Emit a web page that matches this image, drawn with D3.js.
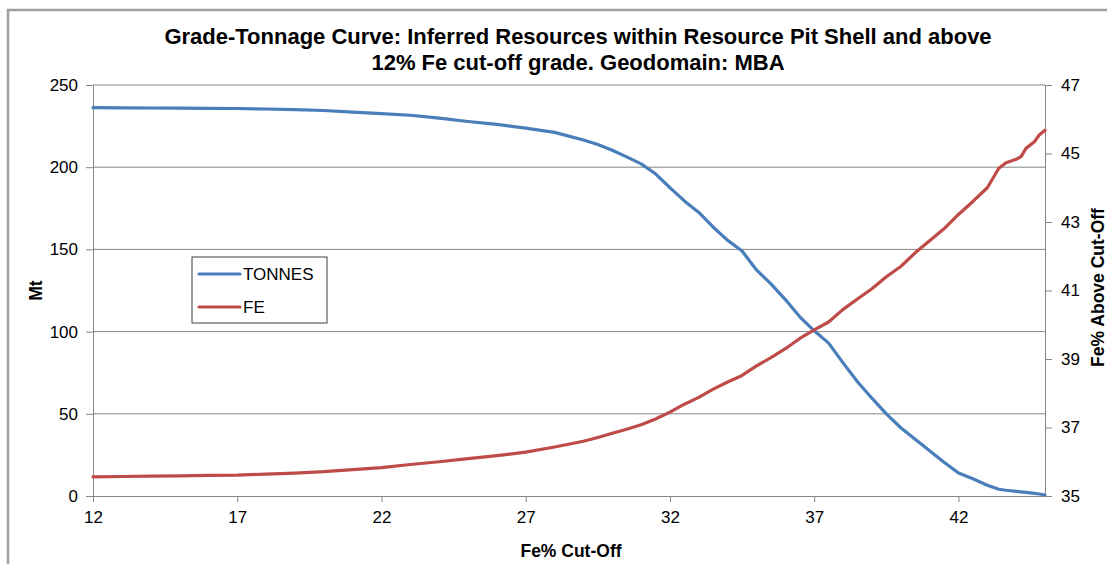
<!DOCTYPE html>
<html>
<head>
<meta charset="utf-8">
<script src="https://cdn.jsdelivr.net/npm/d3@7"></script>
<style>
  html, body { margin: 0; padding: 0; background: #fff; }
  svg { display: block; font-family: "Liberation Sans", Arial, sans-serif; }
</style>
</head>
<body>
<svg id="chart" width="1107" height="564"></svg>
<script>
// ---- data ----
const cutoff = [12,13,14,15,16,17,18,19,20,21,22,23,24,25,26,27,28,29,
  29.5,30,30.5,31,31.5,32,32.5,33,33.5,34,34.5,35,35.5,36,36.5,37,37.5,38,38.5,39,39.5,40,40.5,41,41.5,42,42.5,43,
  43.4,43.65,44,44.17,44.34,44.63,44.8,45];
const tonnes = [236.2,236.1,236.0,235.9,235.8,235.7,235.4,235.0,234.5,233.5,232.6,231.6,229.8,227.8,226.0,223.8,221.2,216.5,
  213.8,210.3,206.3,202.0,196.0,187.5,179.5,172.5,163.5,155.5,149.0,137.5,129.0,119.5,109.0,100.5,93.0,81.0,69.5,59.5,50.0,41.5,34.5,27.5,20.5,14.0,10.5,6.5,
  4.1,3.5,2.8,2.5,2.2,1.6,1.2,0.6];
const feGrade = [35.56,35.57,35.58,35.59,35.60,35.61,35.64,35.67,35.71,35.77,35.83,35.92,36.00,36.09,36.18,36.28,36.43,36.60,
  36.71,36.83,36.95,37.08,37.25,37.45,37.68,37.88,38.12,38.33,38.52,38.80,39.04,39.30,39.60,39.85,40.08,40.45,40.75,41.05,41.40,41.70,42.10,42.45,42.80,43.22,43.60,44.00,
  44.57,44.73,44.83,44.91,45.15,45.34,45.54,45.68];
const xTicks = [12,17,22,27,32,37,42];
const leftTicks = [0,50,100,150,200,250];
const rightTicks = [35,37,39,41,43,45,47];
const seriesNames = ["TONNES","FE"];
const titleLines = ["Grade-Tonnage Curve: Inferred Resources within Resource Pit Shell and above",
                    "12% Fe cut-off grade. Geodomain: MBA"];

// ---- layout ----
const L = 93, R = 1045, T = 85, B = 496;
const gridColor = "#868686";
const blue = "#4A7EBB", red = "#BE4B48";

const svg = d3.select("#chart");
svg.append("rect").attr("width",1107).attr("height",564).attr("fill","#fff");
// outer frame (extends beyond image right/bottom)
svg.append("rect").attr("x",8).attr("y",10).attr("width",1200).attr("height",700)
  .attr("fill","none").attr("stroke","#a0a0a0").attr("stroke-width",2.5);

const x = d3.scaleLinear().domain([12,45]).range([L,R]);
const yL = d3.scaleLinear().domain([0,250]).range([B,T]);
const yR = d3.scaleLinear().domain([35,47]).range([B,T]);

// gridlines
svg.append("g").selectAll("line").data(leftTicks.filter(d=>d>0)).join("line")
  .attr("x1",L).attr("x2",R).attr("y1",d=>yL(d)).attr("y2",d=>yL(d))
  .attr("stroke",gridColor).attr("stroke-width",1);

function styleAxis(g){
  g.selectAll("path.domain").attr("stroke",gridColor).attr("stroke-width",1);
  g.selectAll(".tick line").attr("stroke",gridColor).attr("stroke-width",1);
  g.selectAll(".tick text").attr("fill","#000").style("font-size","17px")
    .style("font-family","'Liberation Sans', Arial, sans-serif");
}

svg.append("g").attr("transform",`translate(0,${B})`)
  .call(d3.axisBottom(x).tickValues(xTicks).tickSize(6).tickSizeOuter(0).tickPadding(9).tickFormat(d3.format("d")))
  .call(styleAxis);
svg.append("g").attr("transform",`translate(${L},0)`)
  .call(d3.axisLeft(yL).tickValues(leftTicks).tickSize(7).tickSizeOuter(0).tickPadding(8).tickFormat(d3.format("d")))
  .call(styleAxis);
svg.append("g").attr("transform",`translate(${R},0)`)
  .call(d3.axisRight(yR).tickValues(rightTicks).tickSize(7).tickSizeOuter(0).tickPadding(9).tickFormat(d3.format("d")))
  .call(styleAxis);

// lines
const tData = cutoff.map((c,i)=>[c,tonnes[i]]);
const fData = cutoff.map((c,i)=>[c,feGrade[i]]);
svg.append("path").datum(tData)
  .attr("d", d3.line().x(d=>x(d[0])).y(d=>yL(d[1])))
  .attr("fill","none").attr("stroke",blue).attr("stroke-width",3.2).attr("stroke-linejoin","round").attr("stroke-linecap","round");
svg.append("path").datum(fData)
  .attr("d", d3.line().x(d=>x(d[0])).y(d=>yR(d[1])))
  .attr("fill","none").attr("stroke",red).attr("stroke-width",3.2).attr("stroke-linejoin","round").attr("stroke-linecap","round");

// title
svg.append("g").selectAll("text").data(titleLines).join("text")
  .attr("x",578).attr("y",(d,i)=>44+i*25.5)
  .attr("text-anchor","middle").style("font-size","22px").style("font-weight","bold").attr("fill","#000")
  .text(d=>d);

// axis titles
svg.append("text").attr("x",571).attr("y",557).attr("text-anchor","middle")
  .style("font-size","17.5px").style("font-weight","bold").text("Fe% Cut-Off");
svg.append("text").attr("transform",`translate(42,${(T+B)/2}) rotate(-90)`).attr("text-anchor","middle")
  .style("font-size","17.5px").style("font-weight","bold").text("Mt");
svg.append("text").attr("transform",`translate(1104,${(T+B)/2 - 3}) rotate(-90)`).attr("text-anchor","middle")
  .style("font-size","17.5px").style("font-weight","bold").text("Fe% Above Cut-Off");

// legend
const lg = svg.append("g");
lg.append("rect").attr("x",192).attr("y",257).attr("width",135).attr("height",66)
  .attr("fill","#fff").attr("stroke","#404040").attr("stroke-width",1);
const legendColors = [blue, red];
const legendY = [274, 307];
seriesNames.forEach((n,i)=>{
  lg.append("line").attr("x1",199).attr("x2",240).attr("y1",legendY[i]).attr("y2",legendY[i])
    .attr("stroke",legendColors[i]).attr("stroke-width",3.2).attr("stroke-linecap","round");
  lg.append("text").attr("x",243).attr("y",legendY[i]+6).style("font-size","17px").attr("fill","#000").text(n);
});
</script>
</body>
</html>
